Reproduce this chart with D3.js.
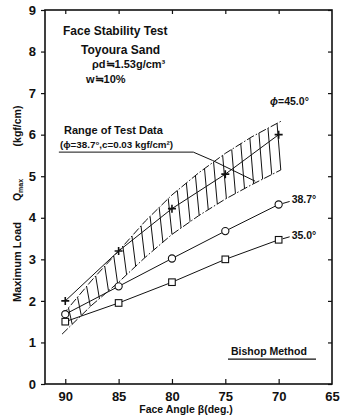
<!DOCTYPE html>
<html>
<head>
<meta charset="utf-8">
<script src="https://cdn.jsdelivr.net/npm/d3@7/dist/d3.min.js"></script>
<style>
  body { margin: 0; background: #fff; }
  svg { display: block; }
  text { font-family: "Liberation Sans", Arial, sans-serif; fill: #111; font-weight: bold; }
</style>
</head>
<body>
<svg id="chart" width="346" height="417"></svg>
<script>
// face angle beta (deg.)
const angles = [90, 85, 80, 75, 70];
// maximum load Qmax (kgf/cm) for each friction angle
const phi45 = [2.0, 3.2, 4.22, 5.05, 6.0];
const phi387 = [1.68, 2.35, 3.02, 3.68, 4.32];
const phi35 = [1.5, 1.95, 2.45, 3.0, 3.47];
// range of test data (phi=38.7, c=0.03)
const bandAngles = [90.3, 87.5, 85, 82.5, 80, 77.5, 75, 72.5, 69.8];
const bandUpper = [1.65, 2.5, 3.2, 3.92, 4.55, 5.08, 5.55, 5.95, 6.32];
const bandLower = [1.2, 1.9, 2.45, 3.05, 3.6, 4.05, 4.45, 4.8, 5.15];

const xTicks = [90, 85, 80, 75, 70, 65];
const yTicks = [0, 1, 2, 3, 4, 5, 6, 7, 8, 9];

const margin = {top: 10, right: 14, bottom: 33, left: 45};
const width = 346, height = 417;

const svg = d3.select('#chart');

const x = d3.scaleLinear().domain([91.9, 65]).range([margin.left, width - margin.right]);
const y = d3.scaleLinear().domain([0, 9]).range([height - margin.bottom, margin.top]);

// hatched band
const interp = (xs, ys) => v => {
  for (let i = 0; i < xs.length - 1; i++) {
    if (v <= xs[i] && v >= xs[i + 1]) {
      const t = (xs[i] - v) / (xs[i] - xs[i + 1]);
      return ys[i] + t * (ys[i + 1] - ys[i]);
    }
  }
  return null;
};
const upperAt = interp(bandAngles, bandUpper);
const lowerAt = interp(bandAngles, bandLower);

const band = svg.append('g').attr('stroke', '#111').attr('fill', 'none');
d3.range(89.7, 70, -0.85).forEach(a => {
  const a2 = a - 0.35;
  if (lowerAt(a2) === null) return;
  band.append('line')
    .attr('x1', x(a)).attr('y1', y(upperAt(a)))
    .attr('x2', x(a2)).attr('y2', y(lowerAt(a2)))
    .attr('stroke-width', 1);
});

const line = d3.line().x(d => x(d[0])).y(d => y(d[1]));
[bandUpper, bandLower].forEach(vals => {
  band.append('path')
    .attr('d', line(bandAngles.map((a, i) => [a, vals[i]])))
    .attr('stroke-width', 1)
    .attr('stroke-dasharray', '8,2,1.5,2');
});

// series lines
[phi45, phi387, phi35].forEach(vals => {
  svg.append('path')
    .attr('d', line(angles.map((a, i) => [a, vals[i]])))
    .attr('fill', 'none').attr('stroke', '#111').attr('stroke-width', 1);
});

// markers
svg.append('g').selectAll('path').data(angles.map((a, i) => [a, phi45[i]]))
  .join('path')
  .attr('d', d => `M${x(d[0]) - 4},${y(d[1])}h8M${x(d[0])},${y(d[1]) - 4}v8`)
  .attr('stroke', '#111').attr('stroke-width', 1.6);

svg.append('g').selectAll('circle').data(angles.map((a, i) => [a, phi387[i]]))
  .join('circle')
  .attr('cx', d => x(d[0])).attr('cy', d => y(d[1])).attr('r', 3.6)
  .attr('fill', '#fff').attr('stroke', '#111').attr('stroke-width', 1.1);

svg.append('g').selectAll('rect').data(angles.map((a, i) => [a, phi35[i]]))
  .join('rect')
  .attr('x', d => x(d[0]) - 3.3).attr('y', d => y(d[1]) - 3.3)
  .attr('width', 6.6).attr('height', 6.6)
  .attr('fill', '#fff').attr('stroke', '#111').attr('stroke-width', 1.1);

// series labels
const last = angles.length - 1;
[phi387, phi35].forEach(vals => {
  svg.append('line')
    .attr('x1', x(angles[last]) + 4).attr('y1', y(vals[last]) - 1)
    .attr('x2', x(angles[last]) + 11).attr('y2', y(vals[last]) - 3)
    .attr('stroke', '#111');
});
svg.append('text').attr('x', x(angles[last]) + 13).attr('y', y(phi387[last]) - 1)
  .attr('font-size', 10.5).text('38.7°');
svg.append('text').attr('x', x(angles[last]) + 13).attr('y', y(phi35[last]) - 1)
  .attr('font-size', 10.5).text('35.0°');
const p45 = svg.append('text').attr('x', x(70.8)).attr('y', y(6.72))
  .attr('font-size', 10.5);
p45.append('tspan').attr('font-style', 'italic').text('ϕ');
p45.append('tspan').text('=45.0°');

// frame and axes
svg.append('rect')
  .attr('x', margin.left).attr('y', margin.top)
  .attr('width', width - margin.left - margin.right)
  .attr('height', height - margin.top - margin.bottom)
  .attr('fill', 'none').attr('stroke', '#111').attr('stroke-width', 1.6);

svg.append('g')
  .attr('transform', `translate(${margin.left},0)`)
  .call(d3.axisLeft(y).tickValues(yTicks).tickSize(4).tickPadding(5))
  .call(g => g.select('.domain').remove());
svg.append('g')
  .attr('transform', `translate(${width - margin.right},0)`)
  .call(d3.axisLeft(y).tickValues(yTicks).tickSize(4).tickFormat(''))
  .call(g => g.select('.domain').remove());
svg.append('g')
  .attr('transform', `translate(0,${height - margin.bottom})`)
  .call(d3.axisTop(x).tickValues(xTicks.slice(0, 5)).tickSize(5).tickFormat(''))
  .call(g => g.select('.domain').remove());
svg.append('g')
  .attr('transform', `translate(0,${height - margin.bottom})`)
  .call(d3.axisBottom(x).tickValues(xTicks).tickSize(0).tickPadding(8))
  .call(g => g.select('.domain').remove());
svg.append('g')
  .attr('transform', `translate(0,${margin.top})`)
  .call(d3.axisBottom(x).tickValues(xTicks.slice(0, 5)).tickSize(4).tickFormat(''))
  .call(g => g.select('.domain').remove());

svg.selectAll('.tick line').attr('stroke', '#111').attr('stroke-width', 1.2);
svg.selectAll('.tick text')
  .style('font-family', '"Liberation Sans", Arial, sans-serif')
  .style('font-size', '13px').style('font-weight', 'bold').attr('fill', '#111');

// axis titles
svg.append('text').attr('x', 186).attr('y', 413).attr('text-anchor', 'middle')
  .attr('font-size', 10.5).text('Face Angle β(deg.)');

const yl = svg.append('g').attr('transform', 'translate(21,0) rotate(-90)');
yl.append('text').attr('x', -262).attr('y', 0).attr('text-anchor', 'middle')
  .attr('font-size', 11).text('Maximum Load');
const q = yl.append('text').attr('x', -190).attr('y', 0).attr('text-anchor', 'middle')
  .attr('font-size', 10.5);
q.append('tspan').text('Q');
q.append('tspan').attr('font-size', 7).attr('dy', 2).text('max');
yl.append('text').attr('x', -126).attr('y', 0).attr('text-anchor', 'middle')
  .attr('font-size', 10.5).text('(kgf/cm)');

// annotations
const notes = [
  {t: 'Face Stability Test', x: 63, y: 35, s: 12},
  {t: 'Toyoura Sand', x: 81, y: 54, s: 12},
  {t: 'ρd≒1.53g/cm³', x: 92, y: 68, s: 11},
  {t: 'w≒10%', x: 86, y: 83, s: 11},
  {t: 'Range of Test Data', x: 64, y: 134, s: 11},
  {t: '(ϕ=38.7°,c=0.03 kgf/cm²)', x: 60, y: 148, s: 9.8},
  {t: 'Bishop Method', x: 231, y: 355, s: 10.5}
];
svg.append('g').selectAll('text').data(notes).join('text')
  .attr('x', d => d.x).attr('y', d => d.y)
  .attr('font-size', d => d.s).text(d => d.t);

// leader from note to band
const leader = [[90.6, 5.58], [78.0, 5.58], [76.2, 5.38], [72.2, 4.88]];
svg.append('path').attr('d', line(leader))
  .attr('fill', 'none').attr('stroke', '#111').attr('stroke-width', 1);

svg.append('line').attr('x1', x(74.75)).attr('x2', x(66.5))
  .attr('y1', y(0.6)).attr('y2', y(0.6)).attr('stroke', '#111').attr('stroke-width', 1.2);
</script>
</body>
</html>
